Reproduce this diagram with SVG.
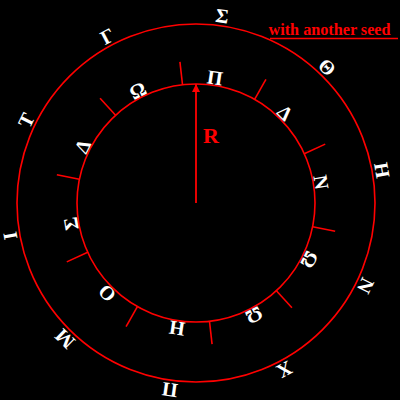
<svg xmlns="http://www.w3.org/2000/svg" width="400" height="400" viewBox="0 0 400 400">
<style>
.ring{fill:none;stroke:#f00;stroke-width:1.6}
.tick{stroke:#f00;stroke-width:1.6}
.lt{fill:#fff;font-family:"Liberation Serif","Times New Roman",serif;font-weight:bold;font-size:20px;text-anchor:middle}
.red{fill:#f00;font-family:"Liberation Serif","Times New Roman",serif;font-weight:bold}
</style>
<defs>
<marker id="ah" viewBox="0 0 10 10" refX="10" refY="5" markerWidth="8" markerHeight="8" markerUnits="userSpaceOnUse" orient="auto">
<path d="M0,0 L10,5 L0,10 z" fill="#f00"/>
</marker>
</defs>
<rect width="400" height="400" fill="#000"/>
<g id="outer-ring">
<circle class="ring" cx="196" cy="203" r="179"/>
</g>
<g id="inner-ring">
<circle class="ring" cx="196" cy="203" r="119"/>
</g>
<g id="connectors">
<g class="tick">
<line x1="196" y1="84" x2="196" y2="61" transform="rotate(29.5 196 203)"/>
<line x1="196" y1="84" x2="196" y2="61" transform="rotate(65.5 196 203)"/>
<line x1="196" y1="84" x2="196" y2="61" transform="rotate(101.5 196 203)"/>
<line x1="196" y1="84" x2="196" y2="61" transform="rotate(137.5 196 203)"/>
<line x1="196" y1="84" x2="196" y2="61" transform="rotate(173.5 196 203)"/>
<line x1="196" y1="84" x2="196" y2="61" transform="rotate(209.5 196 203)"/>
<line x1="196" y1="84" x2="196" y2="61" transform="rotate(245.5 196 203)"/>
<line x1="196" y1="84" x2="196" y2="61" transform="rotate(281.5 196 203)"/>
<line x1="196" y1="84" x2="196" y2="61" transform="rotate(317.5 196 203)"/>
<line x1="196" y1="84" x2="196" y2="61" transform="rotate(353.5 196 203)"/>
</g>
<line id="radius" x1="196" y1="203" x2="196" y2="84" stroke="#f00" stroke-width="1.8" marker-end="url(#ah)"/>
<line x1="270" y1="38.5" x2="398" y2="38.5" stroke="#f00" stroke-width="1.6"/>
</g>
<g id="labels">
<text class="red" x="211" y="143" font-size="22" text-anchor="middle">R</text>
<text class="red" x="268.5" y="35" font-size="16.2">with another seed</text>
</g>
<g id="inner-letters" class="lt">
<text x="196" y="83" transform="rotate(8.6 196 203)">Π</text>
<text x="196" y="83" transform="rotate(44.6 196 203)">Δ</text>
<text x="196" y="83" transform="rotate(80.6 196 203)">Ν</text>
<text x="196" y="83" transform="rotate(116.6 196 203)">Ω</text>
<text x="196" y="83" transform="rotate(152.6 196 203)">Ω</text>
<text x="196" y="83" transform="rotate(188.6 196 203)">Η</text>
<text x="196" y="83" transform="rotate(224.6 196 203)">Ο</text>
<text x="196" y="83" transform="rotate(260.6 196 203)">Σ</text>
<text x="196" y="83" transform="rotate(296.6 196 203)">Δ</text>
<text x="196" y="83" transform="rotate(332.6 196 203)">Ω</text>
</g>
<g id="outer-letters" class="lt">
<text x="196" y="21" transform="rotate(8 196 203)">Σ</text>
<text x="196" y="21" transform="rotate(44 196 203)">Θ</text>
<text x="196" y="21" transform="rotate(80 196 203)">Η</text>
<text x="196" y="21" transform="rotate(116 196 203)">Ν</text>
<text x="196" y="21" transform="rotate(152 196 203)">Χ</text>
<text x="196" y="21" transform="rotate(188 196 203)">Π</text>
<text x="196" y="21" transform="rotate(224 196 203)">Μ</text>
<text x="196" y="21" transform="rotate(260 196 203)">Ι</text>
<text x="196" y="21" transform="rotate(296 196 203)">Τ</text>
<text x="196" y="21" transform="rotate(332 196 203)">Γ</text>
</g>
</svg>
